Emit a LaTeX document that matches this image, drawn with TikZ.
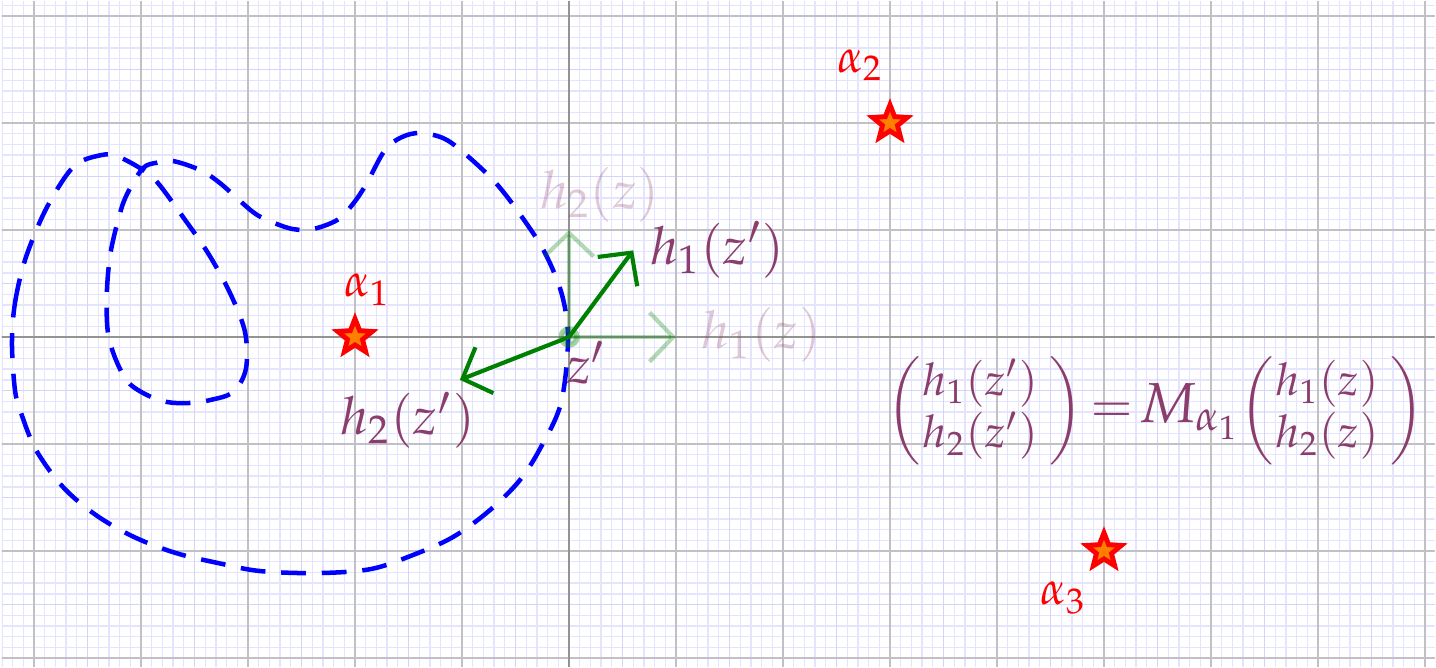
\documentclass[tikz,border=0pt]{standalone}
\usepackage{mathpazo}
\usetikzlibrary{arrows.meta,shapes.geometric}
\definecolor{labpurple}{RGB}{139,61,110}
\definecolor{gridminor}{RGB}{228,228,255}
\definecolor{gridhalf}{RGB}{212,212,248}
\definecolor{gridmajor}{RGB}{192,192,198}
\definecolor{arrgreen}{RGB}{0,128,0}
\definecolor{starorange}{RGB}{255,128,0}
\newcommand{\colvec}[2]{\left(\begin{array}{@{\hspace{0.5pt}}c@{\hspace{3pt}}}#1\\#2\end{array}\right)}
\begin{document}
\begin{tikzpicture}[
  x=1cm,y=1cm,
  lab/.style={text=labpurple,font=\fontsize{14}{16}\selectfont,inner sep=1pt},
  eqlab/.style={text=labpurple,font=\fontsize{12}{14}\selectfont,inner sep=0pt},
  fadedlab/.style={lab,text opacity=0.28},
  alab/.style={text=red,font=\fontsize{12.5}{15}\selectfont,inner sep=1pt},
  starnode/.style={star,star points=5,star point ratio=2.3,minimum size=0.34cm,inner sep=0pt,draw=red,fill=starorange,line width=1.3pt},
  vec/.style={arrgreen,line width=1.1pt,-{Straight Barb[length=2.2mm,width=4.6mm]}},
  fadedvec/.style={vec,draw opacity=0.3},
  contour/.style={blue,line width=1.2pt,dash pattern=on 6.6pt off 4.2pt}
]
\useasboundingbox (-5.318,-3.093) rectangle (8.103,3.150);
\begin{scope}
\clip (-5.3,-3.08) rectangle (8.09,3.14);
\draw[gridminor,line width=0.35pt] (-5.4,-3.2) grid[step=0.1] (8.2,3.2);
\draw[gridhalf,line width=0.35pt] (-5.5,-3.5) grid[step=0.5] (8.5,3.5);
\draw[gridmajor,line width=0.45pt] (-6,-4) grid[step=1] (9,4);
\draw[gray!85,line width=0.45pt] (-5.4,0) -- (8.2,0);
\draw[gray!85,line width=0.45pt] (0,-3.2) -- (0,3.2);
\end{scope}

% dashed contour
\draw[contour] plot[smooth cycle,tension=0.55] coordinates {
(-5.206,-0.056) (-5.178,0.318) (-5.084,0.720) (-4.916,1.140) (-4.729,1.467)
(-4.589,1.626) (-4.411,1.692) (-4.250,1.700) (-4.009,1.579) (-3.850,1.449)
(-3.607,1.121) (-3.374,0.785) (-3.168,0.411) (-3.028,0.047) (-3.020,-0.300)
(-3.140,-0.514) (-3.355,-0.589) (-3.561,-0.617) (-3.757,-0.607) (-3.944,-0.542)
(-4.121,-0.421) (-4.240,-0.200) (-4.310,0.050) (-4.320,0.400) (-4.285,0.785)
(-4.196,1.159) (-4.121,1.355) (-3.981,1.579) (-3.850,1.630) (-3.700,1.645)
(-3.449,1.561) (-3.262,1.439) (-2.953,1.168) (-2.776,1.075) (-2.579,1.009)
(-2.393,1.009) (-2.168,1.093) (-2.030,1.230) (-1.900,1.420) (-1.720,1.748)
(-1.561,1.869) (-1.393,1.907) (-1.178,1.860) (-0.991,1.729) (-0.692,1.449)
(-0.439,1.121) (-0.224,0.785) (-0.065,0.393) (-0.009,-0.028) (-0.075,-0.617)
(-0.262,-1.028) (-0.458,-1.336) (-0.738,-1.617) (-1.084,-1.869) (-1.458,-2.037)
(-1.850,-2.168) (-2.346,-2.206) (-2.888,-2.187) (-3.280,-2.112) (-3.673,-2.019)
(-4.065,-1.869) (-4.421,-1.664) (-4.729,-1.402) (-4.981,-1.056) (-5.121,-0.710)
(-5.178,-0.495)};

% base point and vectors
\coordinate (O) at (0,0);
\coordinate (e1) at (1,0);
\coordinate (e2) at (0,1);
\coordinate (f1) at (0.60,0.81);
\coordinate (f2) at (-1.02,-0.40);
\draw[arrgreen,draw opacity=0.35,fill=arrgreen,fill opacity=0.12,line width=1.4pt] (O) circle (0.075);
\draw[fadedvec] (O) -- (e1);
\draw[fadedvec] (O) -- (e2);
\draw[vec] (O) -- (f1);
\draw[vec] (O) -- (f2);

\node[fadedlab] (l1z) at (1.80,0.02) {$h_1(z)$};
\node[fadedlab] (l2z) at (0.29,1.33) {$h_2(z)$};
\node[lab] (l1zp) at (1.39,0.815) {$h_1(z')$};
\node[lab] (l2zp) at (-1.505,-0.776) {$h_2(z')$};
\node[lab] (lzp) at (0.16,-0.24) {$z'$};

% singular points
\node[starnode] (s1) at (-2,0) {};
\node[starnode] (s2) at (3,2) {};
\node[starnode] (s3) at (5,-2) {};
\node[alab] (a1) at (-1.888,0.439) {$\alpha_1$};
\node[alab] (a2) at (2.720,2.542) {$\alpha_2$};
\node[alab] (a3) at (4.617,-2.439) {$\alpha_3$};

% monodromy equation
\node[eqlab] (eq) at (5.481,-0.692) {$\colvec{h_1(z')}{h_2(z')}$\hspace{2pt}{\fontsize{13.5}{16}\selectfont$=$}\hspace{1.5pt}{\fontsize{15}{17}\selectfont$M_{\alpha_1}$}$\colvec{h_1(z)}{h_2(z)}$};
\end{tikzpicture}
\end{document}
